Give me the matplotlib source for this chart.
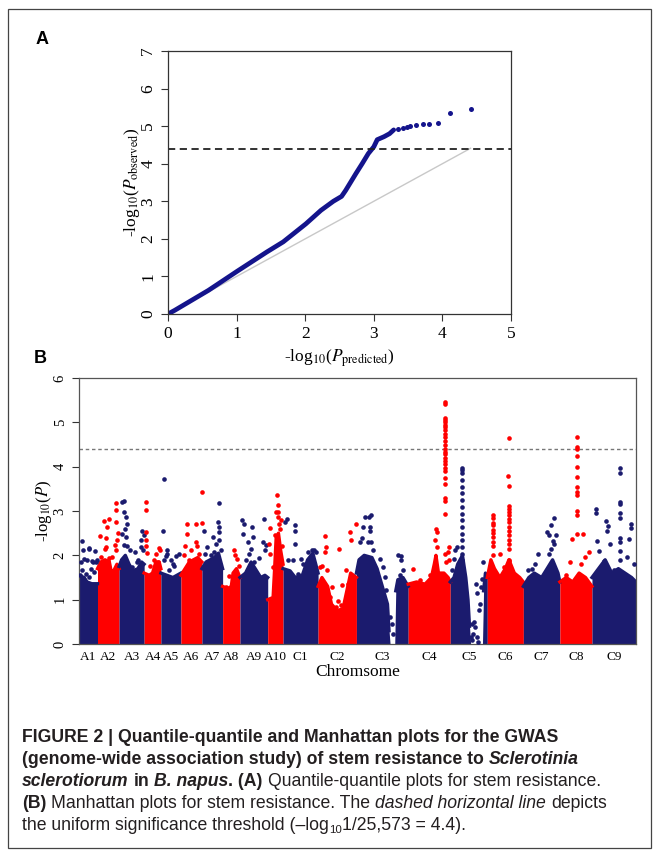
import matplotlib.pyplot as plt
import numpy as np
from matplotlib.patches import Rectangle

plt.rcParams['font.family'] = ['Liberation Serif', 'DejaVu Serif']
plt.rcParams['mathtext.fontset'] = 'stix'

navy = '#1b1b6e'
red = '#ff0000'

# ---- panel A: QQ plot ----
qq_exp = [0, 0.1, 0.59, 1.01, 1.44, 1.68, 2.01, 2.23, 2.41, 2.53, 2.59, 2.74, 2.83,
          2.92, 3.0, 3.05, 3.15, 3.23, 3.29]
qq_obs = [0, 0.1, 0.63, 1.14, 1.65, 1.92, 2.40, 2.76, 3.0, 3.13, 3.29, 3.74, 4.0,
          4.27, 4.45, 4.64, 4.72, 4.80, 4.9]
qq_tail_exp = [3.35, 3.42, 3.48, 3.53, 3.62, 3.71, 3.80, 3.93, 4.11, 4.41]
qq_tail_obs = [4.93, 4.95, 4.97, 5.0, 5.03, 5.05, 5.07, 5.08, 5.36, 5.45]
max_exp = 4.41
threshold = 4.4

# ---- panel B: Manhattan plot ----
chroms = ['A1', 'A2', 'A3', 'A4', 'A5', 'A6', 'A7', 'A8', 'A9', 'A10',
          'C1', 'C2', 'C3', 'C4', 'C5', 'C6', 'C7', 'C8', 'C9']
chrom_len = [21.9, 24.9, 28.9, 19.3, 23.1, 24.2, 23.9, 20.0, 32.0, 17.7,
             40.4, 44.2, 59.7, 48.5, 42.7, 41.6, 42.1, 37.0, 50.8]

# top of the solid mass of markers (position as fraction of chromosome)
bulk_pos = [
    [0, 0.3, 0.45, 0.7, 1],
    [0, 0.15, 0.35, 0.55, 0.65, 0.75, 0.9, 1],
    [0, 0.1, 0.25, 0.4, 0.55, 0.75, 0.9, 1],
    [0, 0.3, 0.5, 0.7, 0.9, 1],
    [0, 0.3, 0.6, 0.8, 1],
    [0, 0.2, 0.4, 0.6, 0.8, 1],
    [0, 0.2, 0.4, 0.6, 0.8, 1],
    [0, 0.3, 0.5, 0.6, 0.8, 1],
    [0, 0.2, 0.4, 0.55, 0.75, 0.9, 1],
    [0, 0.35, 0.45, 0.55, 0.7, 0.85, 1],
    [0, 0.2, 0.35, 0.55, 0.7, 0.85, 1],
    [0, 0.1, 0.25, 0.35, 0.5, 0.65, 0.75, 0.85, 1],
    [0, 0.05, 0.15, 0.3, 0.4, 0.5, 0.6, 0.63, 0.65, 0.74, 0.76, 0.8, 0.9, 1],
    [0, 0.2, 0.4, 0.55, 0.62, 0.66, 0.72, 0.85, 0.95, 1],
    [0, 0.1, 0.2, 0.33, 0.42, 0.48, 0.52, 0.55, 0.87, 0.9, 0.95, 1],
    [0, 0.1, 0.2, 0.35, 0.5, 0.6, 0.75, 0.9, 1],
    [0, 0.15, 0.3, 0.5, 0.65, 0.8, 0.95, 1],
    [0, 0.2, 0.4, 0.6, 0.8, 1],
    [0, 0.15, 0.3, 0.45, 0.6, 0.75, 0.9, 1],
]
bulk_top = [
    [1.55, 1.5, 1.4, 1.36, 1.36],
    [1.7, 1.85, 1.9, 1.85, 1.6, 1.65, 1.8, 1.7],
    [1.75, 1.9, 2.0, 1.8, 1.65, 1.7, 1.85, 1.8],
    [1.6, 1.55, 1.6, 1.85, 1.85, 1.7],
    [1.6, 1.55, 1.5, 1.55, 1.6],
    [1.55, 1.7, 1.85, 1.9, 1.95, 1.85],
    [1.7, 1.85, 1.9, 1.95, 2.05, 1.7],
    [1.3, 1.25, 1.3, 1.6, 1.7, 1.5],
    [1.5, 1.6, 1.85, 1.7, 1.5, 1.55, 1.5],
    [1.0, 1.05, 1.7, 2.4, 2.5, 2.1, 1.8],
    [1.7, 1.65, 1.5, 1.55, 1.9, 2.05, 1.6],
    [1.3, 1.5, 1.3, 0.9, 0.75, 0.8, 1.2, 1.6, 1.5],
    [1.6, 1.9, 2.0, 1.95, 1.7, 1.3, 0.9, 0.3, 0.0, 0.0, 1.2, 1.45, 1.5, 1.3],
    [1.35, 1.4, 1.35, 1.5, 1.8, 2.0, 1.6, 1.6, 1.5, 1.4],
    [1.4, 1.5, 1.8, 2.0, 1.5, 1.0, 0.4, 0.0, 0.0, 1.2, 1.6, 1.5],
    [1.5, 1.9, 1.7, 1.5, 1.7, 1.9, 1.6, 1.5, 1.4],
    [1.3, 1.5, 1.6, 1.5, 1.7, 1.9, 1.6, 1.4],
    [1.4, 1.5, 1.4, 1.6, 1.5, 1.3],
    [1.5, 1.7, 1.9, 1.6, 1.7, 1.6, 1.5, 1.4],
]

# single markers standing above the mass
hit_pos = [
    [0.18, 0.56, 0.88, 0.25, 0.3, 0.12, 0.47, 0.74, 0.95, 0.21, 0.65, 0.39, 0.82, 0.07,
     0.56, 0.53, 0.7, 0.92],
    [0.11, 0.31, 0.54, 0.42, 0.88, 0.88, 0.88, 0.95, 0.92, 0.38, 0.38, 0.51, 0.15, 0.82,
     0.85, 0.69, 0.34, 0.5],
    [0.11, 0.2, 0.2, 0.29, 0.33, 0.24, 0.13, 0.27, 0.2, 0.33, 0.43, 0.64, 0.77, 0.93,
     1.0, 0.89, 0.87, 0.97, 0.53, 0.71],
    [0.14, 0.14, 0.1, 0.14, 0.14, 0.16, 0.86, 0.94, 0.7, 0.6, 0.8, 0.34],
    [0.17, 0.12, 0.33, 0.25, 0.17, 0.5, 0.75, 0.92, 0.67, 0.42, 0.6, 0.3],
    [0.27, 0.27, 0.71, 1.0, 1.0, 0.21, 0.16, 0.48, 0.71, 0.79, 0.87, 0.4, 0.11],
    [0.84, 0.11, 0.55, 0.76, 0.81, 0.84, 0.84, 0.68, 0.27, 0.44, 0.92, 0.6, 0.16],
    [0.67, 0.73, 0.81, 0.96, 0.38, 0.2],
    [0.06, 0.16, 0.43, 0.1, 0.28, 0.4, 0.46, 0.88, 0.82, 0.94, 0.92, 0.67, 0.22, 0.52, 0.34],
    [0.61, 0.65, 0.53, 0.7, 0.65, 0.88, 0.12, 0.09, 0.47, 0.58, 0.18, 0.35, 0.75, 0.8, 0.95],
    [0.1, 0.33, 0.33, 0.33, 0.29, 0.52, 0.57, 0.71, 0.84, 0.88, 0.14, 0.43, 0.19, 0.05, 0.94],
    [0.17, 0.2, 0.19, 0.11, 0.06, 0.22, 0.55, 0.83, 0.85, 0.98, 0.74, 0.78, 0.37, 0.52,
     0.48, 0.61, 0.3, 0.63],
    [0.16, 0.25, 0.29, 0.27, 0.27, 0.13, 0.1, 0.06, 0.23, 0.29, 0.32, 0.45, 0.52, 0.55,
     0.58, 0.65, 0.68, 0.71, 0.81, 0.87, 0.87, 0.89, 0.85],
    [0.87, 0.87, 0.87, 0.87, 0.87, 0.87, 0.87, 0.87, 0.87, 0.87, 0.87, 0.87, 0.87,
     0.87, 0.87, 0.87, 0.87, 0.87, 0.87, 0.87, 0.87, 0.87, 0.87, 0.87, 0.87,
     0.66, 0.68, 0.64, 0.68, 0.96, 0.94, 0.96, 0.12, 0.52, 0.28, 0.76, 0.88, 0.9],
    [0.33, 0.33, 0.33, 0.33, 0.33, 0.33, 0.33, 0.33, 0.33, 0.33, 0.33, 0.33, 0.33,
     0.33, 0.33, 0.33, 0.33, 0.33,
     0.13, 0.17, 0.11, 0.05, 0.58, 0.67, 0.62, 0.71, 0.6, 0.65, 0.71, 0.7, 0.85, 0.8,
     0.78, 0.83, 0.88, 0.55, 0.74],
    [0.6, 0.57, 0.6, 0.6, 0.6, 0.6, 0.6, 0.6, 0.6, 0.6, 0.6, 0.6, 0.6, 0.6, 0.6, 0.6, 0.6,
     0.15, 0.15, 0.15, 0.15, 0.15, 0.15, 0.15, 0.15, 0.15, 0.15,
     0.35, 0.47, 0.79, 0.91],
    [0.83, 0.77, 0.66, 0.71, 0.89, 0.8, 0.85, 0.77, 0.71, 0.4, 0.23, 0.14, 0.31],
    [0.52, 0.52, 0.52, 0.52, 0.52, 0.52, 0.52, 0.52, 0.52, 0.52, 0.52, 0.52,
     0.39, 0.71, 0.32, 0.65, 0.78, 0.91, 0.19],
    [0.63, 0.63, 0.63, 0.63, 0.63, 0.63, 0.63, 0.63, 0.63, 0.63,
     0.1, 0.1, 0.33, 0.36, 0.34, 0.4, 0.12, 0.15, 0.89, 0.89, 0.84, 0.79, 0.95, 0.27, 0.5],
]
hit_val = [
    [2.32, 2.17, 2.1, 2.11, 1.92, 1.85, 1.89, 1.85, 1.89, 1.66, 1.7, 1.59, 1.62, 1.55,
     1.51, 2.15, 1.87, 1.85],
    [2.44, 2.77, 2.83, 2.65, 3.17, 3.03, 2.75, 2.5, 2.34, 2.38, 2.19, 1.95, 1.96, 2.23,
     2.11, 1.96, 2.15, 1.88],
    [3.2, 3.23, 2.98, 2.86, 2.71, 2.6, 2.49, 2.41, 2.23, 2.2, 2.11, 2.08, 1.89, 2.55,
     2.45, 2.34, 2.19, 2.11, 1.74, 1.85],
    [3.2, 3.02, 2.53, 2.34, 2.2, 2.05, 2.17, 2.11, 2.04, 1.89, 1.85, 1.77],
    [3.73, 2.54, 2.11, 1.98, 1.9, 1.89, 1.98, 2.02, 1.77, 1.66, 1.8, 2.03],
    [2.7, 2.49, 2.71, 3.43, 2.74, 2.2, 2.0, 2.11, 2.3, 2.2, 2.04, 1.89, 1.55],
    [3.19, 2.54, 2.41, 2.75, 2.65, 2.53, 2.34, 2.26, 2.19, 2.0, 2.11, 2.08, 2.04],
    [2.11, 2.0, 1.92, 1.77, 1.53, 1.29],
    [2.79, 2.71, 2.65, 2.49, 2.3, 2.15, 2.41, 2.81, 2.3, 2.23, 2.11, 1.95, 1.89, 1.85, 2.02],
    [3.35, 3.14, 2.98, 2.98, 2.86, 2.8, 2.62, 2.25, 2.45, 2.38, 2.04, 1.74, 2.7, 2.6, 2.2],
    [2.83, 2.68, 2.56, 2.26, 1.89, 1.92, 1.81, 2.08, 2.11, 2.13, 1.89, 1.59, 1.59, 2.75, 2.07],
    [2.43, 2.19, 2.08, 1.77, 1.74, 1.66, 2.15, 2.53, 2.34, 2.71, 1.66, 1.36, 1.29, 0.98,
     0.83, 0.87, 1.06, 1.32],
    [2.86, 2.86, 2.92, 2.64, 2.56, 2.64, 2.38, 2.3, 2.3, 2.3, 2.11, 1.92, 1.74, 1.51,
     1.21, 0.61, 0.46, 0.23, 2.0, 1.98, 1.89, 1.66, 1.55],
    [5.46, 5.41, 5.1, 5.05, 5.0, 4.95, 4.9, 4.82, 4.74, 4.66, 4.58, 4.5, 4.4,
     4.34, 4.28, 4.2, 4.12, 4.06, 3.98, 3.9, 3.75, 3.62, 3.3, 3.22, 2.93,
     2.6, 2.53, 2.34, 2.19, 2.19, 2.08, 1.89, 1.7, 1.55, 1.44, 1.51, 2.04, 1.85],
    [3.97, 3.93, 3.85, 3.7, 3.55, 3.4, 3.25, 3.1, 2.94, 2.79, 2.64, 2.49, 2.34,
     2.19, 2.04, 1.9, 1.75, 1.6,
     2.11, 2.19, 1.92, 1.66, 0.46, 0.38, 0.23, 0.16, 0.08, 0.5, 1.14, 1.36, 1.47, 0.9,
     0.76, 1.29, 1.85, 0.15, 0.05],
    [4.65, 3.78, 3.57, 3.12, 3.05, 2.98, 2.9, 2.82, 2.75, 2.65, 2.55, 2.45, 2.35, 2.25, 2.15, 1.9, 1.88,
     2.9, 2.85, 2.72, 2.68, 2.58, 2.5, 2.42, 2.3, 2.2, 2.0,
     2.04, 1.73, 1.5, 1.43],
    [2.84, 2.69, 2.52, 2.45, 2.45, 2.33, 2.26, 2.15, 2.03, 2.03, 1.7, 1.66, 1.81],
    [4.67, 4.45, 4.4, 4.25, 4.0, 3.77, 3.55, 3.42, 3.35, 3.0, 2.92, 2.48,
     2.37, 2.48, 1.85, 1.81, 1.96, 2.07, 1.55],
    [3.98, 3.85, 3.2, 3.15, 2.95, 2.85, 2.4, 2.3, 2.1, 1.9,
     3.05, 2.95, 2.78, 2.67, 2.56, 2.26, 2.33, 2.1, 2.7, 2.62, 2.37, 1.96, 1.81, 1.88, 1.66],
]

W, H = 657, 851
fig = plt.figure(figsize=(W / 100, H / 100), dpi=100)

# outer frame
fig.add_artist(Rectangle((8 / W, 1 - 848 / H), 643 / W, 839 / H, transform=fig.transFigure,
                         fill=False, ec='#444444', lw=0.9))

fig.text(36 / W, 1 - 40 / H, 'A', fontsize=13, fontweight='bold', family='Liberation Sans',
         va='center', ha='left')
fig.text(34 / W, 1 - 358 / H, 'B', fontsize=13, fontweight='bold', family='Liberation Sans',
         va='center', ha='left')


def r_style(ax, size):
    for s in ax.spines.values():
        s.set_color('#333333')
        s.set_linewidth(0.9)
    ax.tick_params(direction='out', length=5, width=0.8, color='#333333', labelsize=size)
    for lab in ax.get_yticklabels():
        lab.set_rotation(90)
        lab.set_va('center')


# ---- QQ plot ----
ax1 = fig.add_axes([168 / W, 1 - 314 / H, 343 / W, 263 / H])
ax1.plot([0, max_exp], [0, max_exp], color='#c8c8c8', lw=1)
ax1.plot(qq_exp, qq_obs, color='#14148c', lw=3.4, solid_capstyle='round', solid_joinstyle='round')
ax1.plot(qq_tail_exp, qq_tail_obs, 'o', color='#14148c', ms=3.6, mec='none')
ax1.axhline(threshold, color='#222222', lw=1.3, ls=(0, (4, 2.5)))
ax1.set_xlim(0, 5)
ax1.set_ylim(0, 7)
ax1.set_xticks(range(6))
ax1.set_yticks(range(8))
r_style(ax1, 12.5)
ax1.set_xlabel(r'-log$_{10}$($P_{\mathrm{predicted}}$)', fontsize=12.5, labelpad=4)
ax1.set_ylabel(r'-log$_{10}$($P_{\mathrm{observed}}$)', fontsize=12.5, labelpad=-1)

# ---- Manhattan plot ----
ax2 = fig.add_axes([78.5 / W, 1 - 644 / H, 557.5 / W, 266 / H])
starts = np.concatenate([[0], np.cumsum(chrom_len)[:-1]])
centers = []
for i, name in enumerate(chroms):
    c = navy if i % 2 == 0 else red
    xs = starts[i] + np.array(bulk_pos[i]) * chrom_len[i]
    top = np.array(bulk_top[i])
    ax2.fill_between(xs, 0, top, color=c, lw=0)
    ax2.plot(xs, np.where(top > 0, top, np.nan), color=c, lw=2.4, solid_joinstyle='round')
    hx = starts[i] + np.array(hit_pos[i]) * chrom_len[i]
    ax2.scatter(hx, hit_val[i], s=11, color=c, lw=0, zorder=3)
    centers.append(starts[i] + chrom_len[i] / 2)

ax2.axhline(threshold, color='#777777', lw=1, ls=(0, (2.5, 2)))
ax2.set_xlim(0, sum(chrom_len))
ax2.set_ylim(0, 6)
ax2.set_xticks(centers)
ax2.set_xticklabels(chroms)
ax2.set_yticks(range(7))
r_style(ax2, 10.5)
ax2.tick_params(axis='x', length=0, labelsize=9.5, pad=5)
for s in ax2.spines.values():
    s.set_color('#555555')
ax2.set_xlabel('Chromsome', fontsize=12.5, labelpad=1)
ax2.set_ylabel(r'-log$_{10}$($P$)', fontsize=12, labelpad=0)

# ---- caption ----
cap_font = ['Liberation Sans']
cap_color = '#231f20'
fs = 12.7
renderer = fig.canvas.get_renderer()


def text_w(s, **kw):
    t = fig.text(0, 0, s, fontsize=kw.get('size', fs), fontweight=kw.get('weight', 'normal'),
                 fontstyle=kw.get('style', 'normal'), family=cap_font)
    w = t.get_window_extent(renderer).width
    t.remove()
    return w


def caption_line(y, runs):
    x = 22
    for txt, weight, style in runs:
        size = fs
        dy = 0
        if style == 'sub':
            size, style, dy = fs * 0.65, 'normal', -3
        sp = text_w('a a', weight=weight, style=style, size=size) - text_w('aa', weight=weight, style=style, size=size)
        lead = len(txt) - len(txt.lstrip(' '))
        trail = len(txt) - len(txt.rstrip(' '))
        x += lead * sp
        core = txt.strip(' ')
        t = fig.text(x / W, (H - y + dy) / H, core, fontsize=size, fontweight=weight,
                     fontstyle=style, family=cap_font, color=cap_color, va='baseline')
        x += t.get_window_extent(renderer).width + trail * sp


caption_line(742, [('FIGURE 2 | Quantile-quantile and Manhattan plots for the GWAS', 'bold', 'normal')])
caption_line(764, [('(genome-wide association study) of stem resistance to ', 'bold', 'normal'),
                   ('Sclerotinia', 'bold', 'italic')])
caption_line(786, [('sclerotiorum', 'bold', 'italic'), (' in ', 'bold', 'normal'),
                   ('B. napus', 'bold', 'italic'), ('. (A)', 'bold', 'normal'),
                   (' Quantile-quantile plots for stem resistance.', 'normal', 'normal')])
caption_line(808, [('(B)', 'bold', 'normal'),
                   (' Manhattan plots for stem resistance. The ', 'normal', 'normal'),
                   ('dashed horizontal line', 'normal', 'italic'), (' depicts', 'normal', 'normal')])
caption_line(830, [('the uniform significance threshold (\u2013log', 'normal', 'normal'),
                   ('10', 'normal', 'sub'), ('1/25,573 = 4.4).', 'normal', 'normal')])

fig.savefig('out.png', dpi=100)
